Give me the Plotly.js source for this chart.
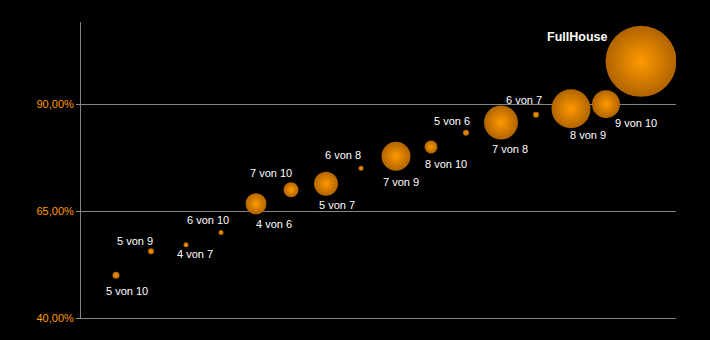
<!DOCTYPE html>
<html><head><meta charset="utf-8">
<script src="https://cdn.plot.ly/plotly-3.0.1.min.js"></script>
<style>html,body{margin:0;padding:0;background:#000;}#chart{width:710px;height:340px;}</style>
</head><body><div id="chart"></div>
<script>
// Data
const labels = ["5 von 10","5 von 9","4 von 7","6 von 10","4 von 6","7 von 10","5 von 7","6 von 8","7 von 9","8 von 10","5 von 6","7 von 8","6 von 7","8 von 9","9 von 10","FullHouse"];
const xIndex = [1,2,3,4,5,6,7,8,9,10,11,12,13,14,15,16];
const percent = [50.0,55.6,57.1,60.0,66.7,70.0,71.4,75.0,77.8,80.0,83.3,85.7,87.5,88.9,90.0,100.0];
const bubbleSize = [7,6,5,5,21,15,24,5,29,13,6,34,6,39,28,71];
const tickValues = [40,65,90];
const tickLabels = ["40,00%","65,00%","90,00%"];

// Label placement (style only: pixel offsets from each bubble)
const labelShift = [[11,16],[-16.5,-10],[8.5,9],[-13,-12],[18,20],[-20,-17],[11,21],[-18,-13],[5,26],[15,17],[-14,-12],[9,26],[-12,-15],[17,26],[30,19],[-64,-24]];

const trace = {
  type:'scatter', mode:'markers',
  x: xIndex, y: percent,
  hoverinfo:'skip',
  marker:{
    size: bubbleSize, sizemode:'diameter', sizeref:1,
    color:'#b06400', opacity:1,
    line:{width:0},
    gradient:{type:'radial', color:'#ff9900'}
  }
};

const annotations = labels.map((t,i)=>({
  x: xIndex[i], y: percent[i], xref:'x', yref:'y',
  text: i===labels.length-1 ? '<b>'+t+'</b>' : t,
  showarrow:false,
  xshift: labelShift[i][0], yshift: -labelShift[i][1],
  font:{family:'Liberation Sans, Arial, sans-serif', size: i===labels.length-1 ? 12.5 : 11, color:'#ffffff'}
}));

const layout = {
  width:710, height:340,
  paper_bgcolor:'#000', plot_bgcolor:'#000',
  margin:{l:81, r:34, t:22, b:22},
  showlegend:false,
  xaxis:{range:[0,17], showgrid:false, zeroline:false, showticklabels:false, ticks:'',
    showline:true, linecolor:'#858585', linewidth:1},
  yaxis:{range:[40,109.2], tickvals:tickValues, ticktext:tickLabels,
    showgrid:true, gridcolor:'#858585', gridwidth:1, zeroline:false,
    showline:true, linecolor:'#858585', linewidth:1,
    ticks:'outside', ticklen:4, tickcolor:'#858585',
    tickfont:{family:'Liberation Sans, Arial, sans-serif', size:11, color:'#ff9900'}},
  annotations: annotations
};

Plotly.newPlot('chart',[trace],layout,{displayModeBar:false, staticPlot:true});
</script>
</body></html>
